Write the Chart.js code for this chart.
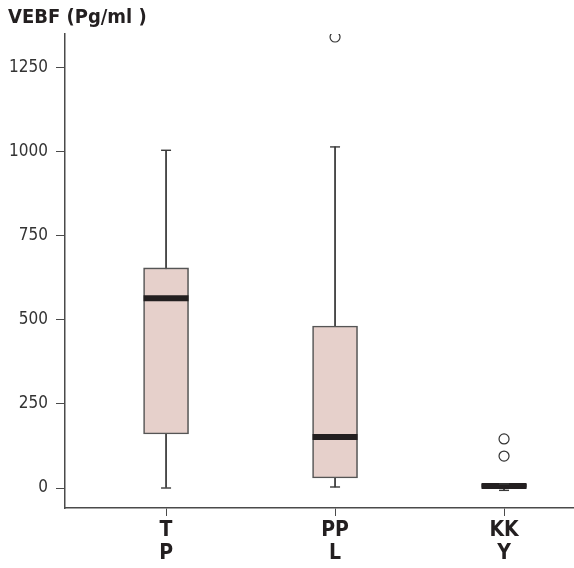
<!DOCTYPE html>
<html>
<head>
<meta charset="utf-8">
<script src="https://cdn.jsdelivr.net/npm/chart.js@4"></script>
<style>
html, body { margin: 0; padding: 0; background: #fff; }
#wrap { width: 574px; height: 568px; }
</style>
</head>
<body>
<div id="wrap"><canvas id="myChart" width="574" height="568"></canvas></div>
<script>
// box plot values
const categories = [['T', 'P'], ['PP', 'L'], ['KK', 'Y']];
const positions = [1, 2, 3];
const whiskerLow = [0, 3, -7];
const q1 = [161, 30, 0];
const median = [565, 152, 6];
const q3 = [655, 482, 12];
const whiskerHigh = [1005, 1015, 12];
const outliers = [[], [1342], [146, 95]];
const yTitle = 'VEBF (Pg/ml )';

const FONT = "'Liberation Sans Narrow', 'DejaVu Sans Condensed', sans-serif";
const INK = '#231f20';
const AXIS = '#4a4a4a';

const pts = (vals) => positions.map((x, i) => ({ x: x, y: vals[i] }));
const ranges = (lo, hi) => positions.map((x, i) => ({ x: x, y: [lo[i], hi[i]] }));

let outlierPts = [];
for (let i = 0; i < positions.length; i++) {
    outliers[i].forEach(v => outlierPts.push({ x: positions[i], y: v }));
}

const ctx = document.getElementById('myChart').getContext('2d');
new Chart(ctx, {
    type: 'bar',
    data: {
        datasets: [
            {
                // whisker stems (behind the boxes)
                type: 'bar',
                data: ranges(whiskerLow, whiskerHigh),
                backgroundColor: '#3a3a3a',
                barThickness: 1.1,
                grouped: false,
                order: 5
            },
            {
                type: 'bar',
                data: ranges(q1, q3),
                backgroundColor: '#e6d0cb',
                borderColor: '#555',
                borderWidth: 1.6,
                borderSkipped: false,
                barThickness: 45,
                grouped: false,
                order: 4
            },
            {
                type: 'scatter',
                data: pts(median),
                pointStyle: 'line',
                radius: 22.5,
                borderWidth: 6,
                borderColor: INK,
                order: 3
            },
            {
                type: 'scatter',
                data: pts(whiskerLow).concat(pts(whiskerHigh)),
                pointStyle: 'line',
                radius: 5,
                borderWidth: 1.4,
                borderColor: '#3a3a3a',
                order: 2
            },
            {
                type: 'scatter',
                data: outlierPts,
                pointStyle: 'circle',
                radius: 5,
                borderWidth: 1.2,
                borderColor: '#333',
                backgroundColor: '#fff',
                order: 1
            }
        ]
    },
    options: {
        responsive: false,
        animation: false,
        layout: { autoPadding: false, padding: { left: 8, right: 0, top: 0, bottom: 0 } },
        plugins: {
            legend: { display: false },
            tooltip: { enabled: false },
            title: {
                display: true,
                text: yTitle,
                align: 'start',
                color: INK,
                font: { family: FONT, size: 20, weight: 'bold', lineHeight: 1.2 },
                padding: { top: 6, bottom: 4 }
            }
        },
        scales: {
            x: {
                type: 'linear',
                offset: false,
                min: 0.402,
                max: 3.414,
                afterFit: (scale) => { scale.height = 60 },
                grid: { drawOnChartArea: false, offset: false, tickLength: 8, color: AXIS },
                border: { color: AXIS, width: 1.5 },
                ticks: {
                    stepSize: 1,
                    includeBounds: false,
                    autoSkip: false,
                    maxRotation: 0,
                    padding: 3,
                    color: INK,
                    font: { family: FONT, size: 21, weight: 'bold', lineHeight: 1.1 },
                    callback: (v) => {
                        const i = positions.indexOf(v);
                        return i >= 0 ? categories[i] : '';
                    }
                }
            },
            y: {
                min: -59.5,
                max: 1351,
                afterFit: (scale) => { scale.width = 57 },
                grid: { drawOnChartArea: false, tickLength: 9, color: AXIS },
                border: { color: AXIS, width: 1.5 },
                ticks: {
                    stepSize: 250,
                    includeBounds: false,
                    padding: 8,
                    color: '#333',
                    font: { family: FONT, size: 17 },
                    callback: (v) => String(v)
                }
            }
        }
    }
});
</script>
</body>
</html>
